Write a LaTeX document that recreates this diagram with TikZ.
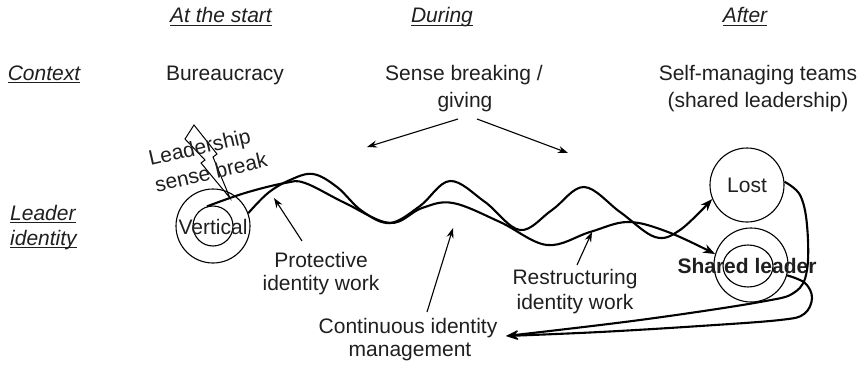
\documentclass[tikz,border=0pt]{standalone}
\usepackage{fontspec}
\setmainfont{Liberation Sans}
\usetikzlibrary{arrows.meta}
\newcommand\myul[1]{\setbox0=\hbox{\itshape #1}\rlap{\vrule height -2.2pt depth 3.4pt width \wd0}\box0}
\begin{document}
\begin{tikzpicture}[x=1pt,y=-1pt,
  txt/.style={font=\fontsize{21}{25}\selectfont, inner sep=0pt, anchor=base, text=black!88},
  ring/.style={draw, circle, inner sep=0pt, line width=1.1pt},
  wave/.style={line width=2.1pt, -{Stealth[length=12pt,width=9pt]}},
  lab/.style={line width=1.1pt, -{Stealth[length=10pt,width=7pt]}}]
\useasboundingbox (0,0) rectangle (864,364);

% headers
\node[txt] (h1) at (221,23) {\myul{At the start}};
\node[txt] (h2) at (442,23) {\myul{During}};
\node[txt] (h3) at (745,23) {\myul{After}};

% context row
\node[txt] (ctx) at (44,80) {\myul{Context}};
\node[txt] (bur) at (225,80) {Bureaucracy};
\node[txt] (sb1) at (464,80) {Sense breaking /};
\node[txt] (sb2) at (465,107) {giving};
\node[txt] (sm1) at (758,80) {Self-managing teams};
\node[txt] (sm2) at (758,107) {(shared leadership)};

% sense arrows
\coordinate (sa0) at (458,119);
\coordinate (sa1) at (367,147);
\coordinate (sb0) at (477,119);
\coordinate (sbb) at (568,153);
\draw[lab] (sa0) -- (sa1);
\draw[lab] (sb0) -- (sbb);

% leader identity
\node[txt, anchor=base west] (li1) at (10,220) {\myul{Leader}};
\node[txt, anchor=base west] (li2) at (10,245) {\myul{identity}};

% circles
\node[ring, minimum size=74pt] (vout) at (213,226) {};
\node[ring, minimum size=40pt] (vin) at (213,226) {};
\node[txt] (vt) at (213,234) {Vertical};
\node[ring, minimum size=74pt] (lost) at (747,185) {};
\node[txt] (lt) at (747,192) {Lost};
\node[ring, minimum size=74pt] (sl) at (751,265) {};
\draw[line width=1.1pt] (748,266) ellipse [x radius=25pt, y radius=21pt];
\node[txt, font=\fontsize{21}{25}\selectfont\bfseries] (st) at (747,273) {Shared leader};

% lightning
\draw[line width=1pt, line join=miter] (194,125) -- (185,139) -- (205,160) -- (201,163) -- (230,198) -- (213,157) -- (217,154) -- cycle;
\node[txt, anchor=center, rotate=13] (ls1) at (200,149) {Leadership};
\node[txt, anchor=center, rotate=13] (ls2) at (211,172) {sense break};

% wavy curves
\draw[wave] plot[smooth, tension=0.6] coordinates {(vout.20) (268,193) (290,180) (313,174) (337,187) (362,211) (390,223) (420,206) (450,181) (485,202) (520,230) (552,210) (584,187) (620,212) (655,237) (680,230) (lost.202)};
\draw[wave] plot[smooth, tension=0.6] coordinates {(vin.107) (245,193) (285,183) (305,183) (345,203) (390,223) (422,208) (453,203) (500,222) (547,245) (590,232) (628,222) (668,232) (sl.163)};

% return curves
\coordinate (ret) at (506,336);
\draw[wave] plot[smooth, tension=0.6] coordinates {(lost.5) (800,195) (807,225) (807,270) (795,292) (760,302) (640,320) (ret)};
\draw[wave] plot[smooth, tension=0.6] coordinates {(sl.-16) (805,283) (812,298) (804,314) (780,320) (700,326) (600,332) (ret)};

% labels
\node[txt] (p1) at (321,267) {Protective};
\node[txt] (p2) at (321,290) {identity work};
\coordinate (pa0) at (302,241);
\coordinate (pa1) at (274,198);
\draw[lab] (pa0) -- (pa1);

\node[txt] (r1) at (575,284) {Restructuring};
\node[txt] (r2) at (575,309) {identity work};
\coordinate (ra0) at (577,265);
\coordinate (ra1) at (592,232);
\draw[lab] (ra0) -- (ra1);

\node[txt] (c1) at (408,333) {Continuous identity};
\node[txt] (c2) at (410,356) {management};
\coordinate (ca0) at (427,312);
\coordinate (ca1) at (453,228);
\draw[lab] (ca0) -- (ca1);
\end{tikzpicture}
\end{document}
